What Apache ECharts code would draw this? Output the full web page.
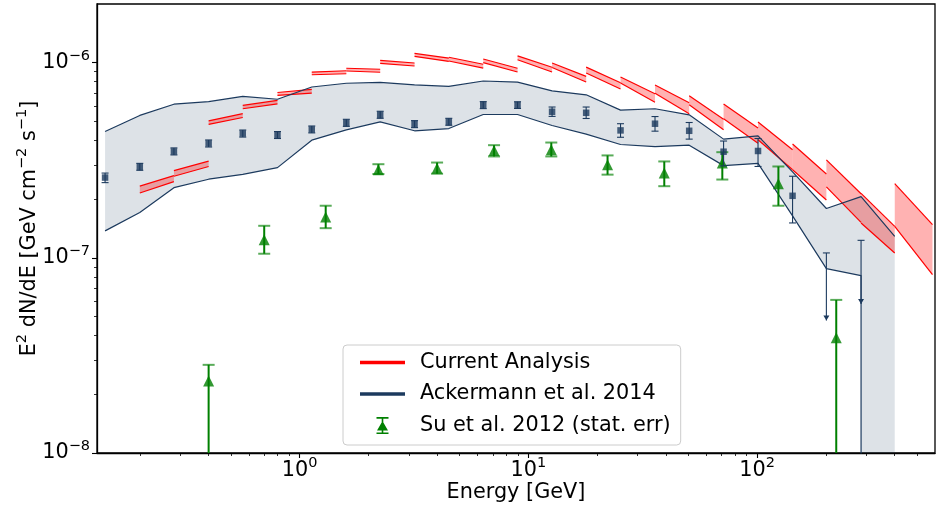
<!DOCTYPE html>
<html><head><meta charset="utf-8">
<script src="https://cdn.jsdelivr.net/npm/echarts@6/dist/echarts.min.js"></script>
<style>html,body{margin:0;padding:0;background:#fff}#c{width:941px;height:506px}</style>
</head><body><div id="c"></div>
<script>
// ---------------- data ----------------
// Ackermann et al. 2014 data points (GeV, GeV cm^-2 s^-1)
const ackE  = [0.141,0.2,0.282,0.4,0.564,0.8,1.13,1.6,2.25,3.18,4.49,6.35,8.97,12.7,17.9,25.3,35.8,50.5,71.4,101,143];
const ackVal = [2.58e-7,2.93e-7,3.51e-7,3.86e-7,4.34e-7,4.26e-7,4.55e-7,4.92e-7,5.41e-7,4.85e-7,4.98e-7,6.07e-7,6.07e-7,5.61e-7,5.54e-7,4.50e-7,4.87e-7,4.48e-7,3.50e-7,3.53e-7,2.08e-7];
const ackLo  = [2.43e-7,2.81e-7,3.37e-7,3.70e-7,4.16e-7,4.09e-7,4.37e-7,4.72e-7,5.19e-7,4.65e-7,4.78e-7,5.82e-7,5.83e-7,5.31e-7,5.18e-7,4.15e-7,4.46e-7,4.06e-7,2.96e-7,2.94e-7,1.51e-7];
const ackHi  = [2.72e-7,3.05e-7,3.66e-7,4.02e-7,4.52e-7,4.44e-7,4.74e-7,5.13e-7,5.64e-7,5.05e-7,5.19e-7,6.32e-7,6.31e-7,5.93e-7,5.93e-7,4.87e-7,5.30e-7,4.94e-7,3.97e-7,4.09e-7,2.62e-7];
// Ackermann upper limits
const ulE   = [201, 285];
const ulVal = [1.06e-7, 1.23e-7];
const ulTo  = [4.78e-8, 5.8e-8];
// Ackermann systematic band
const bandE   = [0.141,0.2,0.282,0.4,0.564,0.8,1.13,1.6,2.25,3.18,4.49,6.35,8.97,12.7,17.9,25.3,35.8,50.5,71.4,101,143,201,285,400];
const bandUp  = [4.44e-7,5.37e-7,6.13e-7,6.32e-7,6.72e-7,6.50e-7,7.51e-7,7.85e-7,7.93e-7,7.71e-7,7.56e-7,8.06e-7,7.96e-7,7.18e-7,6.85e-7,5.72e-7,5.81e-7,5.41e-7,4.06e-7,4.22e-7,2.76e-7,1.79e-7,2.06e-7,1.29e-7];
const bandLowE = [0.141,0.2,0.282,0.4,0.564,0.8,1.13,1.6,2.25,3.18,4.49,6.35,8.97,12.7,17.9,25.3,35.8,50.5,71.4,101,143,201,285,285,400];
const bandLow  = [1.375e-7,1.71e-7,2.29e-7,2.53e-7,2.68e-7,2.90e-7,4.01e-7,4.53e-7,4.98e-7,4.48e-7,4.60e-7,5.43e-7,5.43e-7,4.77e-7,4.31e-7,3.81e-7,3.72e-7,3.78e-7,2.97e-7,3.05e-7,1.64e-7,8.81e-8,8.11e-8,1e-9,1e-9];
// Current analysis (bin edges, band upper/lower at left and right edge)
const redLo = [0.2,0.282,0.4,0.564,0.8,1.13,1.6,2.25,3.18,4.49,6.35,8.97,12.7,17.9,25.3,35.8,50.5,71.4,101,143,201,285,400];
const redHi = [0.282,0.4,0.564,0.8,1.13,1.6,2.25,3.18,4.49,6.35,8.97,12.7,17.9,25.3,35.8,50.5,71.4,101,143,201,285,400,585];
const redUL = [2.33e-7,2.80e-7,5.04e-7,6.04e-7,7.04e-7,8.96e-7,9.37e-7,10.28e-7,11.16e-7,10.67e-7,10.45e-7,10.84e-7,9.97e-7,9.50e-7,8.45e-7,7.69e-7,6.77e-7,6.14e-7,4.97e-7,3.83e-7,3.18e-7,2.14e-7,2.40e-7];
const redUR = [2.64e-7,3.13e-7,5.48e-7,6.41e-7,7.30e-7,9.10e-7,9.26e-7,9.97e-7,10.57e-7,9.82e-7,9.37e-7,9.48e-7,8.51e-7,7.89e-7,6.93e-7,6.23e-7,5.14e-7,4.63e-7,3.58e-7,2.69e-7,2.13e-7,1.45e-7,1.48e-7];
const redLL = [2.15e-7,2.62e-7,4.83e-7,5.81e-7,6.80e-7,8.68e-7,9.07e-7,9.92e-7,10.77e-7,10.21e-7,10.02e-7,10.36e-7,9.46e-7,8.86e-7,7.87e-7,6.98e-7,6.09e-7,5.16e-7,4.03e-7,2.83e-7,2.31e-7,1.51e-7,1.45e-7];
const redLR = [2.46e-7,2.94e-7,5.24e-7,6.16e-7,6.99e-7,8.78e-7,8.94e-7,9.62e-7,10.16e-7,9.39e-7,8.96e-7,8.97e-7,7.97e-7,7.33e-7,6.27e-7,5.48e-7,4.53e-7,3.87e-7,2.83e-7,1.98e-7,1.52e-7,1.06e-7,8.2e-8];
// Su et al. 2012
const suE   = [0.4,0.7,1.3,2.21,3.99,7.08,12.6,22.2,39.3,70.5,124,222];
const suVal = [2.34e-8,1.24e-7,1.62e-7,2.83e-7,2.88e-7,3.55e-7,3.58e-7,3.00e-7,2.72e-7,3.06e-7,2.40e-7,3.9e-8];
const suHi  = [2.83e-8,1.46e-7,1.85e-7,3.02e-7,3.08e-7,3.78e-7,3.90e-7,3.35e-7,3.12e-7,3.48e-7,2.94e-7,6.09e-8];
const suLo  = [1e-9,1.05e-7,1.42e-7,2.69e-7,2.70e-7,3.31e-7,3.31e-7,2.67e-7,2.33e-7,2.52e-7,1.85e-7,1e-9];
// ticks
const xMajor = [1, 10, 100];
const xMinor = [0.2,0.3,0.4,0.5,0.6,0.7,0.8,0.9,2,3,4,5,6,7,8,9,20,30,40,50,60,70,80,90,200,300,400,500];
const yMajor = [1e-8, 1e-7, 1e-6];
const yMinor = [2e-8,3e-8,4e-8,5e-8,6e-8,7e-8,8e-8,9e-8,2e-7,3e-7,4e-7,5e-7,6e-7,7e-7,8e-7,9e-7];

// ---------------- style ----------------
const NAVY = '#1c3a5e', RED = '#ff0000', GREEN = '#008000';
const FONT = 'DejaVu Sans';
const FS = 20.8, FSS = 14.5;
const XMIN = 0.13, XMAX = 600, YMIN = 1e-8, YMAX = 2e-6;

function powLabel(v) {
  const e = Math.round(Math.log10(v));
  return '{b|10}{s|' + String(e).replace('-', '\u2212') + '}';
}
const tickRich = {
  b: { fontSize: FS, lineHeight: 29, fontFamily: FONT, color: '#000' },
  s: { fontSize: FSS, lineHeight: 15, verticalAlign: 'top', fontFamily: FONT, color: '#000' }
};

function errRender(color, lw, cap, capColor, capLw) {
  return function (params, api) {
    const x = api.value(0);
    const t = api.coord([x, api.value(2)]);
    const b = api.coord([x, api.value(1)]);
    const h = cap / 2;
    return { type: 'group', children: [
      { type: 'line', shape: { x1: t[0], y1: t[1], x2: b[0], y2: b[1] }, style: { stroke: color, lineWidth: lw } },
      { type: 'line', shape: { x1: t[0] - h, y1: t[1], x2: t[0] + h, y2: t[1] }, style: { stroke: capColor, lineWidth: capLw } },
      { type: 'line', shape: { x1: b[0] - h, y1: b[1], x2: b[0] + h, y2: b[1] }, style: { stroke: capColor, lineWidth: capLw } }
    ]};
  };
}

const chart = echarts.init(document.getElementById('c'), null, { renderer: 'canvas' });
chart.setOption({
  animation: false,
  backgroundColor: '#fff',
  grid: { left: 97, right: 6, top: 4, bottom: 53, outerBoundsMode: 'none', containLabel: false,
          show: true, borderColor: '#000', borderWidth: 1.3, backgroundColor: 'transparent' },
  legend: {
    orient: 'vertical', left: 343, top: 345,
    padding: [7, 10, 9, 17], itemGap: 10.5, itemWidth: 55, itemHeight: 20,
    backgroundColor: 'rgba(255,255,255,0.8)', borderColor: '#cccccc', borderWidth: 1, borderRadius: 4,
    textStyle: { fontSize: FS, color: '#000', fontFamily: FONT },
    selectedMode: false,
    data: [
      { name: 'Current Analysis', icon: 'path://M0,0M55,20M0,8.3h45v3.4h-45z', itemStyle: { color: RED, borderWidth: 0 } },
      { name: 'Ackermann et al. 2014', icon: 'path://M0,0M55,20M0,8.3h45v3.4h-45z', itemStyle: { color: NAVY, borderWidth: 0 } },
      { name: 'Su et al. 2012 (stat. err)', icon: 'path://M0,0M55,20M16.5,1.6h12v1.6h-12zM16.5,17h12v1.6h-12zM21.7,1.6h1.6v17h-1.6zM22.5,5.5L28,15H17z', itemStyle: { color: GREEN, borderWidth: 0 } }
    ]
  },
  xAxis: [{
    type: 'log', logBase: 10, min: XMIN, max: XMAX, position: 'bottom',
    axisLine: { show: true, lineStyle: { color: '#000', width: 1.3 } },
    axisTick: { show: true, customValues: xMajor, length: 5, lineStyle: { color: '#000', width: 1.1 } },
    axisLabel: { customValues: xMajor, formatter: powLabel, rich: tickRich, margin: 3 },
    splitLine: { show: false },
    name: 'Energy [GeV]', nameLocation: 'middle', nameGap: 29, nameMoveOverlap: false,
    nameTextStyle: { fontSize: FS, color: '#000', fontFamily: FONT }
  }, {
    type: 'log', logBase: 10, min: XMIN, max: XMAX, position: 'bottom',
    axisLine: { show: false },
    axisTick: { show: true, customValues: xMinor, length: 3, lineStyle: { color: '#000', width: 0.8 } },
    axisLabel: { show: false }, splitLine: { show: false }
  }],
  yAxis: [{
    type: 'log', logBase: 10, min: YMIN, max: YMAX, position: 'left',
    axisLine: { show: true, lineStyle: { color: '#000', width: 1.3 } },
    axisTick: { show: true, customValues: yMajor, length: 5, lineStyle: { color: '#000', width: 1.1 } },
    axisLabel: { customValues: yMajor, formatter: powLabel, rich: tickRich, margin: 7 },
    splitLine: { show: false },
    name: 'E{s|2} dN/dE [GeV cm{s|\u22122} s{s|\u22121}]', nameLocation: 'middle', nameRotate: 90, nameGap: 53, nameMoveOverlap: false,
    nameTextStyle: { fontSize: FS, lineHeight: 29, color: '#000', fontFamily: FONT,
      rich: { s: { fontSize: FSS, lineHeight: 15, verticalAlign: 'top', fontFamily: FONT, color: '#000' } } }
  }, {
    type: 'log', logBase: 10, min: YMIN, max: YMAX, position: 'left',
    axisLine: { show: false },
    axisTick: { show: true, customValues: yMinor, length: 3, lineStyle: { color: '#000', width: 0.8 } },
    axisLabel: { show: false }, splitLine: { show: false }
  }],
  series: [
    { // Ackermann band fill
      name: 'Ackermann et al. 2014', type: 'custom', xAxisIndex: 0, yAxisIndex: 0, silent: true, clip: true, z: 1,
      data: [[1, 1e-7]],
      renderItem: function (params, api) {
        const pts = [];
        for (let i = 0; i < bandE.length; i++) pts.push(api.coord([bandE[i], bandUp[i]]));
        for (let i = bandLowE.length - 1; i >= 0; i--) pts.push(api.coord([bandLowE[i], bandLow[i]]));
        return { type: 'polygon', shape: { points: pts }, style: { fill: 'rgba(28,58,94,0.15)' } };
      }
    },
    { // Current analysis
      name: 'Current Analysis', type: 'custom', xAxisIndex: 0, yAxisIndex: 0, silent: true, clip: true, z: 2,
      itemStyle: { color: RED },
      data: redLo.map((e, i) => [e, redHi[i], redUL[i], redUR[i], redLL[i], redLR[i]]),
      encode: { x: [0, 1], y: [2, 3, 4, 5] },
      renderItem: function (params, api) {
        const e0 = api.value(0), e1 = api.value(1);
        const a = api.coord([e0, api.value(2)]), b = api.coord([e1, api.value(3)]);
        const c = api.coord([e1, api.value(5)]), d = api.coord([e0, api.value(4)]);
        return { type: 'group', children: [
          { type: 'polygon', shape: { points: [a, b, c, d] }, style: { fill: 'rgba(255,0,0,0.3)' } },
          { type: 'polyline', shape: { points: [a, b] }, style: { stroke: RED, lineWidth: 1.2, fill: null } },
          { type: 'polyline', shape: { points: [d, c] }, style: { stroke: RED, lineWidth: 1.2, fill: null } }
        ]};
      }
    },
    { name: 'Ackermann et al. 2014', type: 'line', xAxisIndex: 0, yAxisIndex: 0, silent: true, z: 3,
      data: bandE.map((e, i) => [e, bandUp[i]]), showSymbol: false, lineStyle: { color: NAVY, width: 1.2 } },
    { name: 'Ackermann et al. 2014', type: 'line', xAxisIndex: 0, yAxisIndex: 0, silent: true, z: 3,
      data: bandLowE.slice(0, bandLowE.length - 1).map((e, i) => [e, bandLow[i]]), showSymbol: false, lineStyle: { color: NAVY, width: 1.2 } },
    { // Su error bars
      name: 'Su et al. 2012 (stat. err)', type: 'custom', xAxisIndex: 0, yAxisIndex: 0, silent: true, clip: true, z: 4,
      itemStyle: { color: GREEN },
      data: suE.map((e, i) => [e, suLo[i], suHi[i]]), encode: { x: 0, y: [1, 2] },
      renderItem: errRender(GREEN, 2, 12, 'rgba(0,128,0,0.65)', 2)
    },
    { name: 'Su et al. 2012 (stat. err)', type: 'scatter', xAxisIndex: 0, yAxisIndex: 0, silent: true, z: 4,
      symbol: 'triangle', symbolSize: [11, 11], itemStyle: { color: GREEN },
      data: suE.map((e, i) => [e, suVal[i]]) },
    { // Ackermann error bars
      name: 'Ackermann et al. 2014', type: 'custom', xAxisIndex: 0, yAxisIndex: 0, silent: true, clip: true, z: 5,
      itemStyle: { color: NAVY },
      data: ackE.map((e, i) => [e, ackLo[i], ackHi[i]]), encode: { x: 0, y: [1, 2] },
      renderItem: errRender(NAVY, 1.1, 7, NAVY, 1.1)
    },
    { name: 'Ackermann et al. 2014', type: 'scatter', xAxisIndex: 0, yAxisIndex: 0, silent: true, z: 6,
      symbol: 'rect', symbolSize: 6.5, itemStyle: { color: NAVY },
      data: ackE.map((e, i) => [e, ackVal[i]]) },
    { // Ackermann upper limits
      name: 'Ackermann et al. 2014', type: 'custom', xAxisIndex: 0, yAxisIndex: 0, silent: true, clip: true, z: 5,
      itemStyle: { color: NAVY },
      data: ulE.map((e, i) => [e, ulTo[i], ulVal[i]]), encode: { x: 0, y: [1, 2] },
      renderItem: function (params, api) {
        const x = api.value(0);
        const t = api.coord([x, api.value(2)]);
        const b = api.coord([x, api.value(1)]);
        return { type: 'group', children: [
          { type: 'line', shape: { x1: t[0], y1: t[1], x2: b[0], y2: b[1] }, style: { stroke: NAVY, lineWidth: 1.1 } },
          { type: 'line', shape: { x1: t[0] - 3.5, y1: t[1], x2: t[0] + 3.5, y2: t[1] }, style: { stroke: NAVY, lineWidth: 1.1 } },
          { type: 'polygon', shape: { points: [[b[0] - 3, b[1] - 5], [b[0] + 3, b[1] - 5], [b[0], b[1]]] }, style: { fill: NAVY } }
        ]};
      }
    }
  ]
});
</script>
</body></html>
